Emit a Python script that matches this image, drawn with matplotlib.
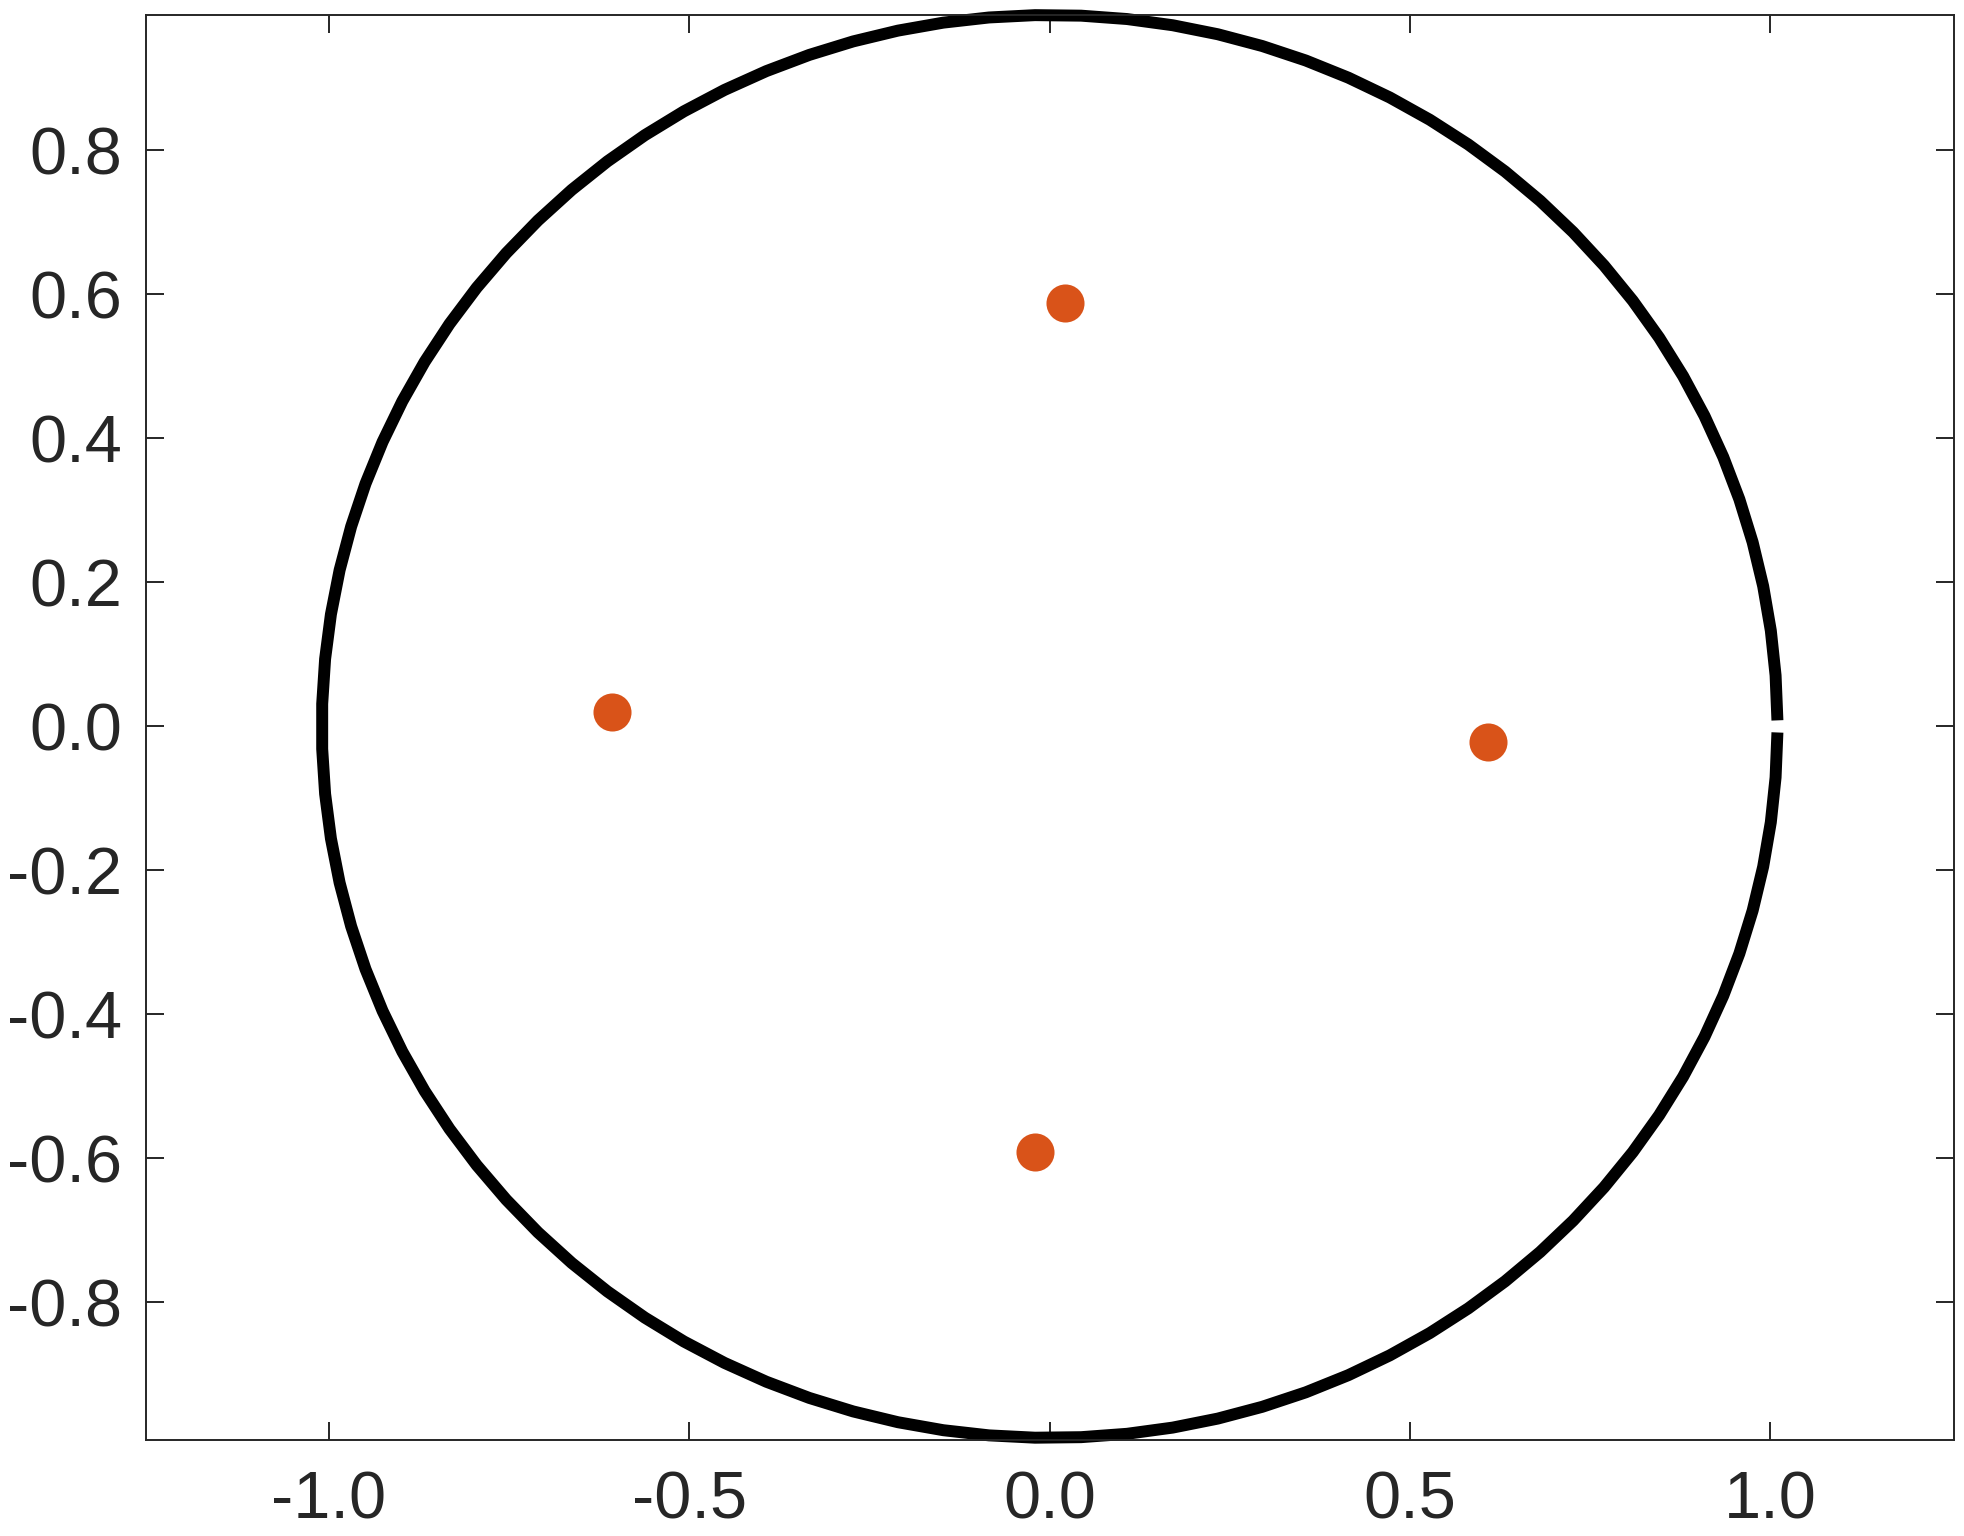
import numpy as np
import matplotlib
matplotlib.use('Agg')
import matplotlib.pyplot as plt

# roots shown as dots
root_x = [0.022, -0.607, 0.608, -0.021]
root_y = [0.588, 0.020, -0.022, -0.591]

# reference circle (slightly squashed as in the picture), open at angle 0
circle_rx = 1.01
circle_ry = 0.988
circle_gap = 0.0085

x_ticks = [-1.0, -0.5, 0.0, 0.5, 1.0]
y_ticks = [-0.8, -0.6, -0.4, -0.2, 0.0, 0.2, 0.4, 0.6, 0.8]

plt.rcParams['font.family'] = ['Liberation Sans', 'DejaVu Sans']
plt.rcParams['axes.unicode_minus'] = False

fig = plt.figure(figsize=(19.64, 15.36), dpi=100)
ax = fig.add_axes([146/1964, 96/1536, 1808/1964, 1425/1536])

theta = np.linspace(circle_gap, 2*np.pi - circle_gap, 100)
ax.plot(circle_rx*np.cos(theta), circle_ry*np.sin(theta), color='black',
        lw=8.6, solid_capstyle='butt', solid_joinstyle='miter', clip_on=False)

ax.plot(root_x, root_y, 'o', color='#D95319', ms=27.4, mec='none')

ax.set_xlim(-1.254, 1.255)
ax.set_ylim(-0.991, 0.988)
ax.set_xticks(x_ticks)
ax.set_yticks(y_ticks)
ax.set_xticklabels(['%.1f' % v for v in x_ticks])
ax.set_yticklabels(['%.1f' % v for v in y_ticks])

ax.tick_params(direction='in', length=13, width=1.4, colors='#262626',
               labelsize=48, top=True, right=True)
ax.tick_params(axis='x', pad=22)
ax.tick_params(axis='y', pad=17)
for s in ax.spines.values():
    s.set_color('#262626')
    s.set_linewidth(1.4)

fig.savefig('out.png', dpi=100)
